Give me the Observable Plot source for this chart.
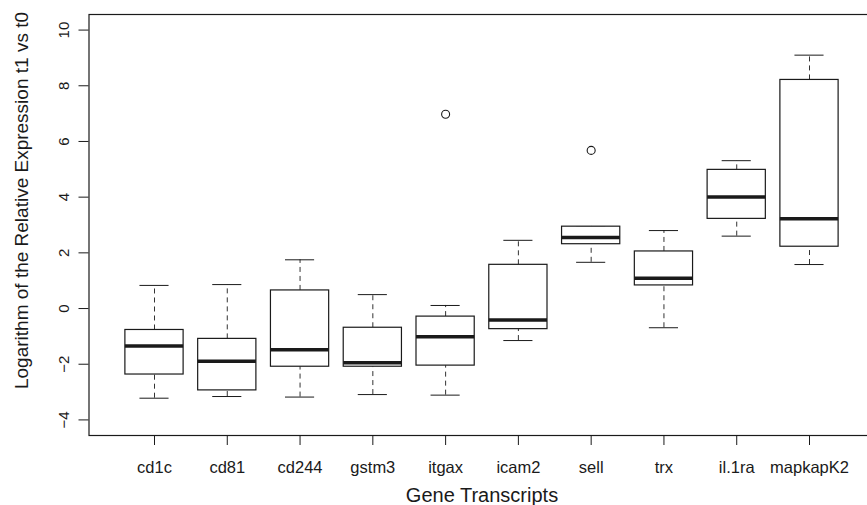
<!DOCTYPE html>
<html><head><meta charset="utf-8">
<script src="https://cdn.jsdelivr.net/npm/d3@7"></script>
<script src="https://cdn.jsdelivr.net/npm/@observablehq/plot@0.6"></script>
<style>
html,body{margin:0;padding:0;background:#fff;overflow:hidden;}
#chart svg{max-width:none !important;display:block;}
</style></head><body><div id="chart"></div>
<script>
// Gene transcripts (categories)
const genes = ["cd1c","cd81","cd244","gstm3","itgax","icam2","sell","trx","il.1ra","mapkapK2"];
// Box-plot statistics
const whiskerLow  = [-3.22,-3.16,-3.18,-3.09,-3.11,-1.15, 1.66,-0.69, 2.60, 1.58];
const q1          = [-2.37,-2.94,-2.09,-2.09,-2.05,-0.74, 2.31, 0.83, 3.22, 2.22];
const median      = [-1.35,-1.89,-1.48,-1.95,-1.01,-0.41, 2.55, 1.09, 4.01, 3.22];
const q3          = [-0.77,-1.09, 0.65,-0.69,-0.29, 1.57, 2.94, 2.05, 4.98, 8.21];
const whiskerHigh = [ 0.83, 0.86, 1.75, 0.50, 0.11, 2.45, 2.94, 2.80, 5.31, 9.10];
// Outliers
const outlierGenes  = ["itgax","sell"];
const outlierValues = [6.98, 5.68];
// Axis ticks and titles
const yTicks = [-4,-2,0,2,4,6,8,10];
const xTitle = "Gene Transcripts";
const yTitle = "Logarithm of the Relative Expression t1 vs t0";

const rows = genes.map((g,i)=>({g, i:i+1, lo:whiskerLow[i], q1:q1[i], med:median[i], q3:q3[i], hi:whiskerHigh[i]}));
const outl = outlierGenes.map((g,k)=>({i:genes.indexOf(g)+1, v:outlierValues[k]}));
const boxHalf = 0.4, capHalf = 0.2;
const ink = "#1a1a1a";

const chart = Plot.plot({
  width: 875, height: 505,
  marginLeft: 88.5, marginRight: 0.5, marginTop: 14, marginBottom: 70,
  style: {fontFamily: "'Liberation Sans', Arial, Helvetica, sans-serif", background: "#fff", overflow: "visible", color: ink},
  x: {type: "linear", domain: [0.1, 10.9]},
  y: {domain: [-4.56, 10.56]},
  marks: [
    Plot.frame({stroke: ink, strokeWidth: 1.2}),
    Plot.ruleX(rows, {x: "i", y1: "q3", y2: "hi", stroke: "#333", strokeDasharray: "5,4"}),
    Plot.ruleX(rows, {x: "i", y1: "lo", y2: "q1", stroke: "#333", strokeDasharray: "5,4"}),
    Plot.ruleY(rows, {y: "hi", x1: d => d.i - capHalf, x2: d => d.i + capHalf, stroke: ink}),
    Plot.ruleY(rows, {y: "lo", x1: d => d.i - capHalf, x2: d => d.i + capHalf, stroke: ink}),
    Plot.rect(rows, {x1: d => d.i - boxHalf, x2: d => d.i + boxHalf, y1: "q1", y2: "q3", fill: "white", stroke: ink, strokeWidth: 1.2}),
    Plot.ruleY(rows, {y: "med", x1: d => d.i - boxHalf, x2: d => d.i + boxHalf, stroke: ink, strokeWidth: 3.5}),
    Plot.dot(outl, {x: "i", y: "v", r: 4, stroke: ink, fill: "none", strokeWidth: 1.1}),
    Plot.axisY({ticks: yTicks, tickSize: 10, tickFormat: () => "", label: null, stroke: ink}),
    Plot.text(yTicks, {y: d => d, text: d => String(d).replace("-", "\u2212"), frameAnchor: "left", dx: -20.2, rotate: -90, lineAnchor: "bottom", textAnchor: "middle", fontSize: 15, fill: ink}),
    Plot.axisX({ticks: d3.range(1, genes.length + 1), tickSize: 10, tickFormat: () => "", label: null, stroke: ink}),
    Plot.text(rows, {x: "i", text: "g", frameAnchor: "bottom", dy: 37.3, lineAnchor: "bottom", fontSize: 16.5, fill: ink}),
    Plot.text([xTitle], {text: d => d, frameAnchor: "bottom", dy: 66, lineAnchor: "bottom", fontSize: 20, fill: ink}),
    Plot.text([yTitle], {text: d => d, frameAnchor: "left", dx: -61.2, dy: -24.5, rotate: -90, lineAnchor: "bottom", textAnchor: "middle", fontSize: 19, fill: ink})
  ]
});
document.getElementById("chart").appendChild(chart);
</script></body></html>
